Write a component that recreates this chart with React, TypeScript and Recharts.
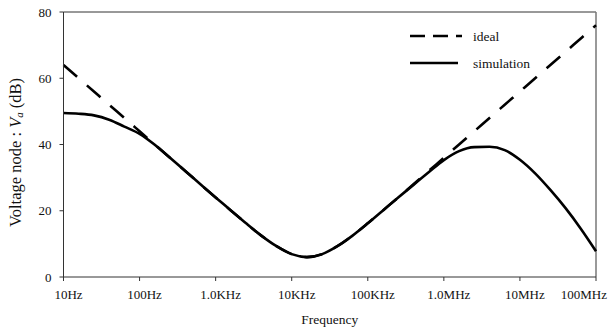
import React from "react";
import { LineChart, Line, XAxis, YAxis, ReferenceLine } from "recharts";

const logFreq = [1.0, 1.2, 1.4, 1.6, 1.8, 2.0, 2.2, 2.4, 2.6, 2.8, 3.0, 3.2, 3.4, 3.6, 3.8, 4.0, 4.2, 4.4, 4.6, 4.8, 5.0, 5.2, 5.4, 5.6, 5.8, 6.0, 6.2, 6.4, 6.6, 6.8, 7.0, 7.2, 7.4, 7.6, 7.8, 8.0];
const ideal = [64, 60, 56, 52, 48, 44, 40, 36, 32, 28, 24, 20.1, 16.2, 12.5, 9.3, 6.9, 6.0, 6.9, 9.3, 12.5, 16.2, 20.1, 24, 28, 32, 36, 40, 44, 48, 52, 56, 60, 64, 68, 72, 76];
const simulation = [49.5, 49.3, 48.8, 47.5, 45.4, 43.2, 39.9, 36, 32, 28, 24, 20.1, 16.2, 12.5, 9.3, 6.9, 6.0, 6.9, 9.3, 12.5, 16.2, 20.1, 24, 27.8, 31.6, 35.3, 38.0, 39.2, 39.3, 38.3, 35.4, 31.3, 26.3, 20.8, 14.6, 7.8];
const xTicks = [1, 2, 3, 4, 5, 6, 7, 8];
const xTickLabels = ["10Hz", "100Hz", "1.0KHz", "10KHz", "100KHz", "1.0MHz", "10MHz", "100MHz"];
const yTicks = [0, 20, 40, 60, 80];

const data = logFreq.map((x, i) => ({ x, ideal: ideal[i], simulation: simulation[i] }));

const FONT = "'Liberation Serif', 'Times New Roman', serif";

const XTick = (props: any) => {
  const { x, y, payload, index } = props;
  const isLast = index === xTicks.length - 1;
  const label = xTickLabels[xTicks.indexOf(payload.value)];
  return (
    <text
      x={isLast ? x + 11 : x + 5}
      y={y}
      dy="0.71em"
      textAnchor={isLast ? "end" : "middle"}
      fontFamily={FONT}
      fontSize={13}
      fill="#111"
    >
      {label}
    </text>
  );
};

const YLabel = () => {
  const cx = 15;
  const cy = 227;
  return (
    <text
      x={cx}
      y={cy}
      transform={`rotate(-90 ${cx} ${cy})`}
      textAnchor="start"
      dominantBaseline="central"
      fontFamily={FONT}
      fontSize={16.5}
      fill="#111"
    >
      <tspan>Voltage node : </tspan>
      <tspan fontStyle="italic">V</tspan>
      <tspan fontStyle="italic" fontSize={11} dy={4}>a</tspan>
      <tspan dy={-4}> (dB)</tspan>
    </text>
  );
};

export default function App() {
  return (
    <div style={{ position: "absolute", left: 0, top: 0, width: 609, height: 331, background: "#fff" }}>
      <LineChart width={609} height={331} data={data} margin={{ top: 12, right: 13, bottom: 0, left: 0 }}>
        <XAxis
          dataKey="x"
          type="number"
          domain={[1, 8]}
          ticks={xTicks}
          interval={0}
          height={54}
          tickSize={4}
          tickMargin={9}
          stroke="#333"
          tick={<XTick />}
          label={{ value: "Frequency", position: "insideBottom", offset: 7, fontSize: 13.5, fill: "#111", fontFamily: FONT }}
        />
        <YAxis
          type="number"
          domain={[0, 80]}
          ticks={yTicks}
          interval={0}
          width={63.5}
          tickSize={4}
          tickMargin={8}
          stroke="#333"
          tick={{ fontSize: 13, fill: "#111", fontFamily: FONT }}
          label={<YLabel />}
        />
        <ReferenceLine y={80} stroke="#333" strokeWidth={1} />
        <ReferenceLine x={8} stroke="#777" strokeWidth={1.5} />
        <Line
          type="monotone"
          dataKey="ideal"
          stroke="#000"
          strokeWidth={2.6}
          strokeDasharray="18 13"
          dot={false}
          isAnimationActive={false}
        />
        <Line
          type="monotone"
          dataKey="simulation"
          stroke="#000"
          strokeWidth={2.6}
          dot={false}
          isAnimationActive={false}
        />
      </LineChart>
      <svg style={{ position: "absolute", left: 400, top: 22 }} width={180} height={56}>
        <line x1={10} y1={14} x2={62} y2={14} stroke="#000" strokeWidth={2.6} strokeDasharray="15 8" />
        <text x={73} y={14} dominantBaseline="central" fontFamily={FONT} fontSize={13.5} fill="#111">ideal</text>
        <line x1={10} y1={41} x2={58} y2={41} stroke="#000" strokeWidth={2.6} />
        <text x={73} y={41} dominantBaseline="central" fontFamily={FONT} fontSize={13.5} fill="#111">simulation</text>
      </svg>
    </div>
  );
}
